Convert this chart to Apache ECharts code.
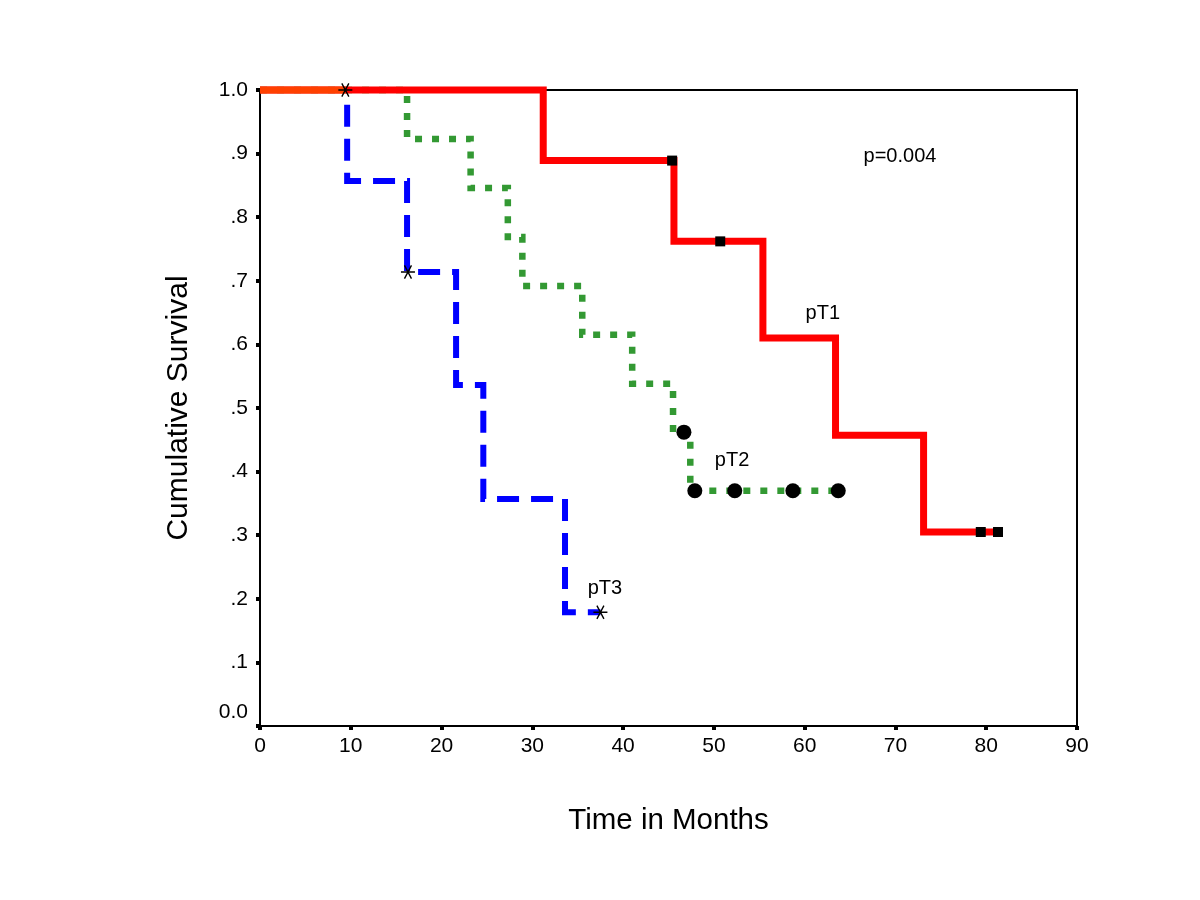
<!DOCTYPE html>
<html>
<head>
<meta charset="utf-8">
<script src="https://cdn.jsdelivr.net/npm/echarts@6/dist/echarts.min.js"></script>
<style>html,body{margin:0;padding:0;background:#fff}#c{width:1200px;height:900px}</style>
</head>
<body>
<div id="c"></div>
<script>
// ---- data ----
var xTicks = [0, 10, 20, 30, 40, 50, 60, 70, 80, 90];
var yTicks = [0, 0.1, 0.2, 0.3, 0.4, 0.5, 0.6, 0.7, 0.8, 0.9, 1.0];

var pT1Times = [0, 31.2, 45.6, 55.4, 63.4, 73.1];
var pT1Surv  = [1.0, 0.889, 0.762, 0.610, 0.457, 0.305];
var pT1End   = 81.3;
var pT1CensorT = [45.4, 50.7, 79.4, 81.3];
var pT1CensorS = [0.889, 0.762, 0.305, 0.305];

var pT2Times = [0, 16.2, 23.2, 27.3, 28.9, 35.5, 41.0, 45.5, 47.4];
var pT2Surv  = [1.0, 0.923, 0.846, 0.769, 0.692, 0.615, 0.538, 0.462, 0.370];
var pT2End   = 63.7;
var pT2CensorT = [46.7, 47.9, 52.3, 58.7, 63.7];
var pT2CensorS = [0.462, 0.370, 0.370, 0.370, 0.370];

var pT3Times = [0, 9.6, 16.2, 21.6, 24.6, 33.6];
var pT3Surv  = [1.0, 0.857, 0.714, 0.536, 0.357, 0.179];
var pT3End   = 37.5;
var pT3CensorT = [9.4, 16.3, 37.5];
var pT3CensorS = [1.0, 0.714, 0.179];

var curveLabels = ['pT1', 'pT2', 'pT3', 'p=0.004'];
var curveLabelX = [62.0, 52.0, 38.0, 70.5];
var curveLabelY = [0.648, 0.417, 0.217, 0.896];

// ---- helpers ----
function stepPoints(t, s, end) {
  var pts = [];
  for (var i = 0; i < t.length; i++) pts.push([t[i], s[i]]);
  pts.push([end, s[s.length - 1]]);
  return pts;
}
function pairs(a, b) { return a.map(function (v, i) { return [v, b[i]]; }); }

var asterisk = 'path://M0 9L20 9L20 11L0 11Z M5.87 0.84L15.87 18.16L14.13 19.16L4.13 1.84Z M15.87 1.84L5.87 19.16L4.13 18.16L14.13 0.84Z';
var font = 'Liberation Sans, Arial, sans-serif';

var chart = echarts.init(document.getElementById('c'), null, {renderer: 'canvas'});
chart.setOption({
  animation: false,
  backgroundColor: '#ffffff',
  grid: {left: 260, right: 123, top: 90, bottom: 174, show: true, borderColor: '#000', borderWidth: 2, backgroundColor: 'transparent'},
  xAxis: {
    type: 'value', min: 0, max: 90, interval: 10,
    name: 'Time in Months', nameLocation: 'middle', nameGap: 80,
    nameTextStyle: {fontFamily: font, fontSize: 29.5, color: '#000'},
    axisLine: {show: true, onZero: false, lineStyle: {color: '#000', width: 2}},
    axisTick: {show: true, inside: false, length: 4, lineStyle: {color: '#000', width: 4}},
    axisLabel: {fontFamily: font, fontSize: 21, color: '#000', margin: 10},
    splitLine: {show: false}
  },
  yAxis: {
    type: 'value', min: 0, max: 1, interval: 0.1,
    name: 'Cumulative Survival', nameLocation: 'middle', nameGap: 66,
    nameTextStyle: {fontFamily: font, fontSize: 30, color: '#000'},
    axisLine: {show: true, onZero: false, lineStyle: {color: '#000', width: 2}},
    axisTick: {show: true, inside: false, length: 4, lineStyle: {color: '#000', width: 4}},
    axisLabel: {
      fontFamily: font, fontSize: 21, color: '#000', margin: 12,
      formatter: function (v) {
        if (Math.abs(v) < 1e-9) return '{z|0.0}';
        if (Math.abs(v - 1) < 1e-9) return '1.0';
        return '.' + Math.round(v * 10);
      },
      rich: {z: {fontFamily: font, fontSize: 21, color: '#000', padding: [0, 0, 28, 0]}}
    },
    splitLine: {show: false}
  },
  series: [
    {
      name: 'pT3', type: 'line', step: 'end', data: stepPoints(pT3Times, pT3Surv, pT3End),
      symbol: 'none', z: 2, clip: false,
      lineStyle: {color: '#0000ff', width: 6, type: [22, 12], cap: 'butt', join: 'miter'}
    },
    {
      name: 'pT2', type: 'line', step: 'end', data: stepPoints(pT2Times, pT2Surv, pT2End),
      symbol: 'none', z: 3, clip: false,
      lineStyle: {color: '#339933', width: 6.5, type: [7, 10], cap: 'butt', join: 'miter'}
    },
    {
      name: 'pT1', type: 'line', step: 'end', data: stepPoints(pT1Times, pT1Surv, pT1End),
      symbol: 'none', zlevel: 1, z: 4, clip: false,
      lineStyle: {color: '#ff0000', width: 7, type: 'solid', cap: 'butt', join: 'miter'}
    },
    {
      name: 'overlap', type: 'line', data: [[pT3Times[0], pT3Surv[0]], [pT3CensorT[0], pT3Surv[0]]],
      symbol: 'none', zlevel: 1, z: 5, clip: false,
      lineStyle: {color: '#ff4000', width: 7, cap: 'butt'}
    },
    {
      name: 'pT1 censored', type: 'scatter', data: pairs(pT1CensorT, pT1CensorS),
      symbol: 'rect', symbolSize: 10, zlevel: 1, z: 6, clip: false, itemStyle: {color: '#000', opacity: 1}
    },
    {
      name: 'pT2 censored', type: 'scatter', data: pairs(pT2CensorT, pT2CensorS),
      symbol: 'circle', symbolSize: 15, zlevel: 1, z: 6, clip: false, itemStyle: {color: '#000', opacity: 1}
    },
    {
      name: 'pT3 censored', type: 'scatter', data: pairs(pT3CensorT, pT3CensorS),
      symbol: asterisk, symbolSize: 14, zlevel: 1, z: 6, clip: false, itemStyle: {color: '#000', opacity: 1}
    },
    {
      name: 'labels', type: 'scatter', symbolSize: 0, zlevel: 1, z: 7, silent: true,
      itemStyle: {opacity: 1},
      data: curveLabels.map(function (n, i) { return {name: n, value: [curveLabelX[i], curveLabelY[i]]}; }),
      label: {show: true, position: 'inside', formatter: '{b}', fontFamily: font, fontSize: 20, color: '#000', opacity: 1}
    }
  ]
});
</script>
</body>
</html>
